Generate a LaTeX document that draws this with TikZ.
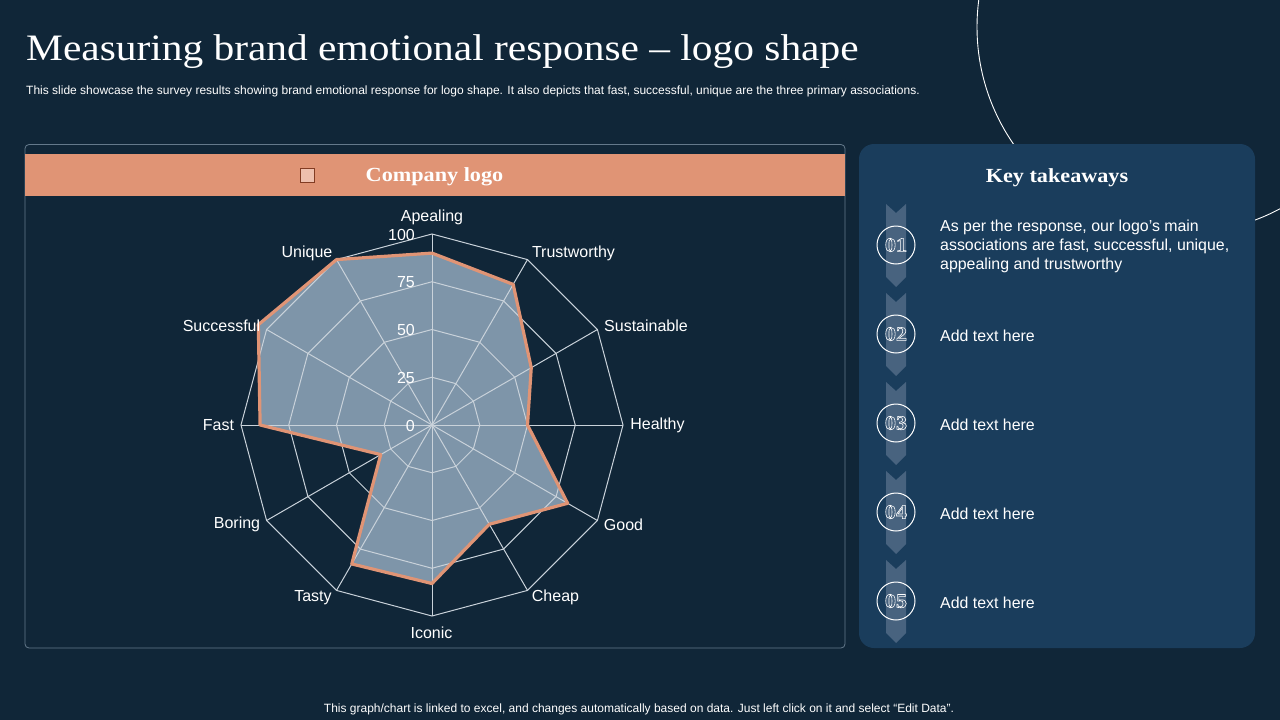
\documentclass[tikz,border=0pt]{standalone}
\usepackage{fontspec}
\setmainfont{Liberation Sans}
\newfontfamily\headfont[FakeStretch=1.11]{Liberation Serif}
\usetikzlibrary{positioning}
\definecolor{pagebg}{HTML}{102638}
\definecolor{panelbg}{HTML}{1A3D5C}
\definecolor{salmon}{HTML}{E09475}
\definecolor{radarfill}{HTML}{7E95A9}
\definecolor{gridline}{HTML}{C9D2DA}
\definecolor{chevron}{HTML}{48637F}
\definecolor{frameline}{HTML}{64798B}
\newcommand{\outlined}[1]{\special{pdf:code 1 Tr 0.6 w 1 1 1 RG}#1\special{pdf:code 0 Tr}}
\begin{document}
\begin{tikzpicture}[x=1pt,y=-1pt]
	\tikzstyle{axislabel}=[text=white,font=\fontsize{16}{19}\selectfont,inner sep=0pt]
	\tikzstyle{ticklabel}=[text=white,font=\fontsize{16}{19}\selectfont,inner sep=0pt,anchor=east]
	\tikzstyle{spoke}=[draw=gridline,line width=1pt]
	\tikzstyle{heading}=[text=white,font=\headfont\bfseries\fontsize{20}{22}\selectfont,inner sep=0pt]
	\tikzstyle{stepnum}=[circle,draw=white,line width=1pt,minimum size=38pt,inner sep=0pt,text=white,font=\headfont\bfseries\fontsize{20}{22}\selectfont]
	\tikzstyle{steptext}=[text=white,font=\fontsize{15.9}{19}\selectfont,inner sep=0pt,anchor=west,align=left]
	\tikzstyle{note}=[text=white,font=\fontsize{12}{14}\selectfont,inner sep=0pt]
	\useasboundingbox (0,0) rectangle (1280,720);
	\clip (0,0) rectangle (1280,720);
	\fill[pagebg] (0,0) rectangle (1280,720);
	\draw[white,line width=0.9pt] (1183,27) circle[radius=206pt];

	\node [text=white,font=\headfont\fontsize{37.3}{40}\selectfont,inner sep=0pt,anchor=west] (title) at (26,52) {Measuring brand emotional response – logo shape};
	\node [note,anchor=west] (subtitle) at (26,91.5) {This slide showcase the survey results showing brand emotional response for logo shape. It also depicts that fast, successful, unique are the three primary associations.};
	\node [note] (footer) at (639,709.5) {This graph/chart is linked to excel, and changes automatically based on data. Just left click on it and select “Edit Data”.};

	% left panel
	\draw[frameline,line width=0.8pt,rounded corners=4pt] (25,144.5) rectangle (845,648);
	\fill[salmon] (25,154) rectangle (845,195.5);
	\node [draw={rgb,255:red,130;green,60;blue,35},fill={rgb,255:red,238;green,192;blue,174},line width=0.8pt,minimum size=14pt,inner sep=0pt] (logobox) at (307.5,175) {};
	\node [heading] (logotext) at (434.5,177) {Company logo};

	% radar
	\begin{scope}[shift={(432,425)},x=1.91pt,y=-1.91pt]
		\coordinate (c) at (0,0);
		\foreach \i/\val in {0/90,1/85,2/60,3/50,4/82,5/60,6/83,7/84,8/31,9/90,10/105,11/100}
			\coordinate (v\i) at ({-90+30*\i}:\val);
		\fill[radarfill] (v0) -- (v1) -- (v2) -- (v3) -- (v4) -- (v5) -- (v6) -- (v7) -- (v8) -- (v9) -- (v10) -- (v11) -- cycle;
		\foreach \r in {25,50,75,100}
			\draw[spoke] (-90:\r) -- (-60:\r) -- (-30:\r) -- (0:\r) -- (30:\r) -- (60:\r) -- (90:\r) -- (120:\r) -- (150:\r) -- (180:\r) -- (210:\r) -- (240:\r) -- cycle;
		\foreach \i in {0,...,11} {
			\coordinate (a\i) at ({-90+30*\i}:100);
			\path[spoke] (c) -- (a\i);
		}
		\draw[salmon,line width=3.2pt,line join=round] (v0) -- (v1) -- (v2) -- (v3) -- (v4) -- (v5) -- (v6) -- (v7) -- (v8) -- (v9) -- (v10) -- (v11) -- cycle;
	\end{scope}
	\node [ticklabel] (t100) at (415,234.5) {100};
	\node [ticklabel] (t75) at (415,282.5) {75};
	\node [ticklabel] (t50) at (415,329.5) {50};
	\node [ticklabel] (t25) at (415,377.5) {25};
	\node [ticklabel] (t0) at (415,425.5) {0};
	\node [axislabel] (apealing) at (432,217.5) {Apealing};
	\node [axislabel] (trustworthy) at (573.5,253.5) {Trustworthy};
	\node [axislabel] (sustainable) at (646,325.5) {Sustainable};
	\node [axislabel] (healthy) at (657.5,425.5) {Healthy};
	\node [axislabel] (good) at (623.5,524.5) {Good};
	\node [axislabel] (cheap) at (555.5,597.5) {Cheap};
	\node [axislabel] (iconic) at (431.5,632.5) {Iconic};
	\node [axislabel] (tasty) at (313,597.5) {Tasty};
	\node [axislabel] (boring) at (237,524.5) {Boring};
	\node [axislabel] (fast) at (218.5,425) {Fast};
	\node [axislabel] (successful) at (221.5,325.5) {Successful};
	\node [axislabel] (unique) at (307,253.5) {Unique};

	% right panel
	\fill[panelbg,rounded corners=15pt] (859,144) rectangle (1255,648);
	\node [heading] (keyhead) at (1057,178) {Key takeaways};
	\foreach \n/\y in {1/245,2/334,3/423,4/512,5/601} {
		\fill[chevron] (886,\y-41) -- (896,\y-32) -- (906,\y-41) -- (906,\y+32) -- (896,\y+42) -- (886,\y+32) -- cycle;
		\node [stepnum] (num\n) at (896,\y) {\outlined{0\n}};
	}
	\node [steptext] (text1) at (940,246) {As per the response, our logo’s main\\associations are fast, successful, unique,\\appealing and trustworthy};
	\node [steptext] (text2) at (940,336) {Add text here};
	\node [steptext] (text3) at (940,425) {Add text here};
	\node [steptext] (text4) at (940,514) {Add text here};
	\node [steptext] (text5) at (940,603) {Add text here};
\end{tikzpicture}
\end{document}
